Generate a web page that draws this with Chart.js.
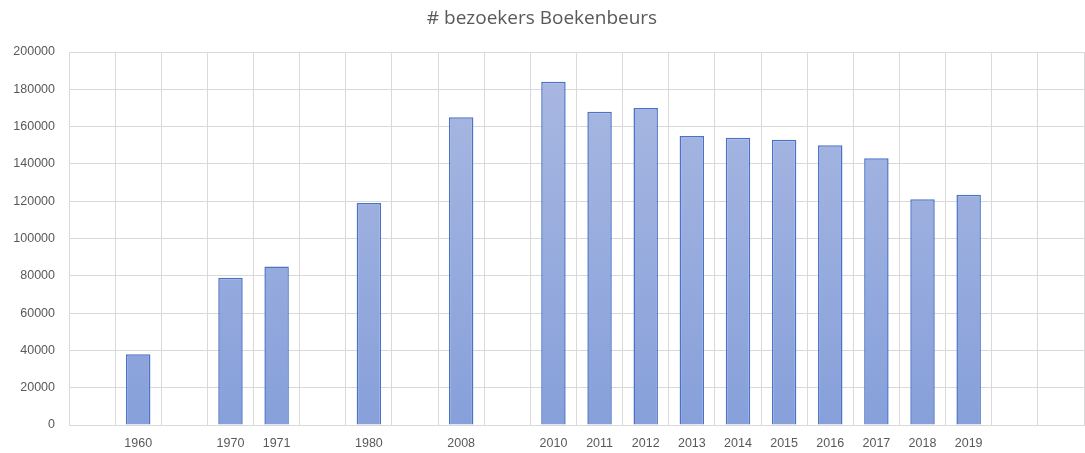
<!DOCTYPE html>
<html>
<head>
<meta charset="utf-8">
<script src="https://cdn.jsdelivr.net/npm/chart.js@4/dist/chart.umd.min.js"></script>
<style>
  html, body { margin: 0; padding: 0; background: #fff; }
  #wrap { width: 1085px; height: 453px; }
</style>
</head>
<body>
<div id="wrap"><canvas id="bezoekersChart"></canvas></div>
<script>
// Jaren (lege plaatsen zoals in de originele grafiek)
const jaren = ['', '1960', '', '1970', '1971', '', '1980', '', '2008', '',
               '2010', '2011', '2012', '2013', '2014', '2015', '2016', '2017', '2018', '2019', '', ''];
// Aantal bezoekers
const bezoekers = [null, 38000, null, 79000, 85000, null, 119000, null, 165000, null,
                   184000, 168000, 170000, 155000, 154000, 153000, 150000, 143000, 121000, 123500, null, null];
const yTicks = [0, 20000, 40000, 60000, 80000, 100000, 120000, 140000, 160000, 180000, 200000];

document.addEventListener('DOMContentLoaded', function() {
    const ctx = document.getElementById('bezoekersChart').getContext('2d');

    function verloop(context) {
        const area = context.chart.chartArea;
        if (!area) return '#98abdd';
        const g = context.chart.ctx.createLinearGradient(0, area.top, 0, area.bottom);
        g.addColorStop(0, '#aab9e2');
        g.addColorStop(1, '#87a0da');
        return g;
    }

    new Chart(ctx, {
        type: 'bar',
        data: {
            labels: jaren,
            datasets: [{
                label: '# bezoekers',
                data: bezoekers,
                backgroundColor: verloop,
                borderColor: '#4a72c6',
                borderWidth: 1.5,
                barPercentage: 0.53,
                categoryPercentage: 1
            }]
        },
        options: {
            responsive: true,
            maintainAspectRatio: false,
            animation: false,
            layout: { padding: { left: 0, right: 1, top: 0, bottom: 0 } },
            plugins: {
                legend: { display: false },
                tooltip: { enabled: false },
                title: {
                    display: true,
                    text: '# bezoekers Boekenbeurs',
                    color: '#595959',
                    font: { family: 'Open Sans', size: 19, weight: 'normal', lineHeight: 1.2 },
                    padding: { top: 7, bottom: 22.2 }
                }
            },
            scales: {
                x: {
                    grid: { color: '#d9d9d9', lineWidth: 1, drawTicks: false, offset: true },
                    border: { color: '#d9d9d9' },
                    ticks: {
                        color: '#595959',
                        font: { family: 'Liberation Sans', size: 12.5 },
                        maxRotation: 0,
                        autoSkip: false,
                        padding: 11
                    },
                    afterFit: function(scale) { scale.height = 28; }
                },
                y: {
                    min: 0,
                    max: 200000,
                    afterBuildTicks: function(scale) {
                        scale.ticks = yTicks.map(v => ({ value: v }));
                    },
                    grid: { color: '#d9d9d9', lineWidth: 1, drawTicks: false },
                    border: { display: false },
                    ticks: {
                        color: '#595959',
                        font: { family: 'Liberation Sans', size: 12.5 },
                        padding: 14,
                        callback: v => String(v)
                    },
                    afterFit: function(scale) { scale.width = 69; }
                }
            }
        }
    });
});
</script>
</body>
</html>
